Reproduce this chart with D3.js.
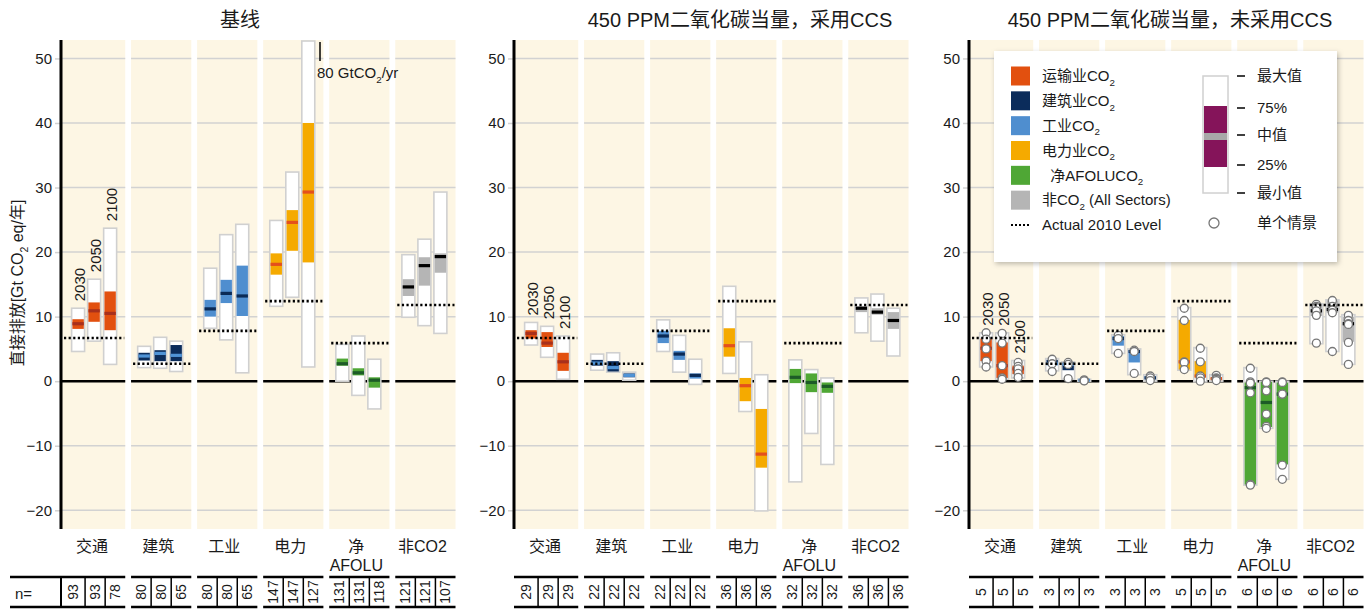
<!DOCTYPE html>
<html>
<head>
<meta charset="utf-8">
<script src="https://cdn.jsdelivr.net/npm/d3@7"></script>
<style>
  body { margin: 0; background: #fff; }
  text { font-family: "Liberation Sans", Arial, "Noto Sans CJK SC", sans-serif; fill: #1a1a1a; }
</style>
</head>
<body>
<svg id="chart" width="1371" height="609"></svg>
<script>
// categories, years, ticks
const categories = ['交通', '建筑', '工业', '电力', '净|AFOLU', '非CO2']
const years = ['2030', '2050', '2100']
const yTicks = [50, 40, 30, 20, 10, 0, -10, -20]
const panelTitles = ['基线', '450 PPM二氧化碳当量，采用CCS', '450 PPM二氧化碳当量，未采用CCS']

// actual 2010 level per category
const level2010 = [6.7, 2.7, 7.8, 12.4, 5.9, 11.8]

// [min, 25%, median, 75%, max] per category, per year
const baseline = [
  [[4.6, 8.1, 8.9, 9.6, 11.3], [6.2, 9.2, 10.9, 12.2, 15.8], [2.6, 7.9, 10.5, 13.9, 23.7]],
  [[2.1, 3.2, 3.9, 4.4, 5.4], [2.0, 3.1, 4.3, 4.8, 6.8], [1.5, 3.1, 4.0, 5.6, 6.2]],
  [[8.2, 10.0, 11.2, 12.6, 17.5], [6.4, 12.1, 13.6, 15.7, 22.7], [1.3, 10.1, 13.2, 17.9, 24.3]],
  [[11.6, 16.5, 18.1, 19.8, 24.9], [13.0, 20.2, 24.6, 26.5, 32.4], [2.2, 18.4, 29.3, 40.0, 80]],
  [[0.0, 2.4, 2.7, 3.5, 5.7], [-2.2, 0.9, 1.3, 2.0, 7.0], [-4.3, -1.0, 0.15, 0.6, 3.4]],
  [[9.9, 13.2, 14.6, 15.8, 19.6], [8.6, 14.8, 17.9, 19.2, 22.0], [7.4, 16.8, 19.3, 19.8, 29.3]]
]
const withCcs = [
  [[5.6, 6.6, 7.4, 7.9, 9.1], [3.7, 5.3, 5.9, 7.6, 8.5], [0.3, 1.6, 3.0, 4.4, 7.0]],
  [[1.7, 2.4, 2.8, 3.3, 4.2], [1.4, 1.5, 2.1, 3.1, 4.4], [0.15, 0.6, 0.9, 1.2, 1.4]],
  [[4.6, 5.9, 7.0, 7.8, 9.5], [1.4, 3.3, 4.2, 4.7, 7.1], [-0.5, 0.4, 0.9, 1.2, 3.4]],
  [[1.2, 3.8, 5.5, 8.2, 14.7], [-4.7, -3.1, -0.7, 0.5, 6.1], [-20.1, -13.4, -11.3, -4.3, 1.0]],
  [[-15.6, -0.3, 0.6, 1.9, 3.3], [-8.1, -1.7, -0.2, 1.2, 1.8], [-12.9, -1.8, -0.8, -0.2, 0.5]],
  [[7.5, 10.7, 11.3, 11.6, 12.9], [6.2, 10.3, 10.7, 11.3, 13.5], [3.9, 8.1, 9.4, 10.7, 11.3]]
]
const noCcs = [
  [[2.2, 3.1, 5.1, 6.6, 7.5], [0.3, 0.5, 2.4, 6.0, 7.5], [0.5, 1.1, 1.9, 2.4, 3.2]],
  [[1.6, 2.5, 2.7, 3.3, 3.5], [0.3, 1.7, 2.6, 2.9, 3.0], [0.0, 0.1, 0.15, 0.25, 0.3]],
  [[4.3, 5.5, 6.6, 7.0, 7.2], [1.0, 2.9, 4.6, 4.8, 5.0], [0.0, 0.3, 0.5, 0.8, 1.0]],
  [[1.7, 1.8, 3.0, 9.5, 11.4], [-0.1, 0.6, 0.8, 3.1, 5.2], [0.0, 0.3, 0.4, 0.5, 1.0]],
  [[-16.1, -16.0, -1.0, -0.2, 2.1], [-7.3, -7.1, -3.3, -0.1, 0.0], [-15.2, -12.9, -2.0, -0.2, 0.0]],
  [[5.8, 10.1, 10.9, 12.0, 12.0], [4.6, 10.6, 11.1, 12.5, 12.6], [2.6, 6.1, 8.9, 10.0, 10.3]]
]
// individual scenarios (no CCS panel)
const noCcsPoints = [
  [[7.5, 6.5, 5.0, 3.1, 2.2], [7.4, 5.9, 2.4, 0.5, 0.3], [2.9, 2.3, 1.9, 1.2, 0.6]],
  [[3.4, 2.7, 1.5], [2.9, 2.6, 0.4], [0.2, 0.1, 0.05]],
  [[7.1, 6.6, 4.3], [4.8, 4.6, 1.2], [0.8, 0.5, 0.1]],
  [[11.3, 9.4, 3.0, 2.9, 1.8], [5.1, 3.0, 0.8, 0.5, 0.0], [0.9, 0.5, 0.4, 0.3, 0.1]],
  [[2.0, -0.1, -0.3, -1.8, -16.0, -16.1], [-0.1, -0.2, -1.5, -5.1, -7.0, -7.3], [-0.1, -0.2, -2.0, -2.0, -13.0, -15.2]],
  [[11.9, 11.6, 11.4, 10.9, 10.2, 5.9], [12.5, 11.6, 11.1, 11.0, 10.6, 4.6], [10.2, 9.4, 8.9, 8.8, 6.0, 2.6]]
]
// scenario counts
const nBaseline = [[93, 93, 78], [80, 80, 65], [80, 80, 65], [147, 147, 127], [131, 131, 118], [121, 121, 107]]
const nCcs = [[29, 29, 29], [22, 22, 22], [22, 22, 22], [36, 36, 36], [32, 32, 32], [36, 36, 36]]
const nNoCcs = [[5, 5, 5], [3, 3, 3], [3, 3, 3], [5, 5, 5], [6, 6, 6], [6, 6, 6]]

const boxColors = ['#e2500f', '#0b2c5b', '#4f8ecf', '#f5aa00', '#4fa735', '#b5b5b5']
const medColors = ['#a8301c', '#4f93d6', '#0b2a55', '#e4501c', '#1d5b27', '#000000']
const legendLabels = [['运输业CO', '2', ''], ['建筑业CO', '2', ''], ['工业CO', '2', ''],
  ['电力业CO', '2', ''], ['  净AFOLUCO', '2', ''], ['非CO', '2', ' (All Sectors)']]

const panels = [
  {title: panelTitles[0], stats: baseline, n: nBaseline, x0: 61, tx: 240},
  {title: panelTitles[1], stats: withCcs, n: nCcs, x0: 514, tx: 740},
  {title: panelTitles[2], stats: noCcs, n: nNoCcs, points: noCcsPoints, x0: 969, tx: 1170}
]

const svg = d3.select('#chart')
const plotTop = 40, plotBottom = 529
const y = d3.scaleLinear().domain([-22.9, 52.7]).range([plotBottom, plotTop + 1]).clamp(true)

// helper for text with subscript
function subText(sel, parts, size) {
  sel.append('tspan').text(parts[0])
  sel.append('tspan').text(parts[1]).attr('font-size', size * 0.65).attr('dy', size * 0.3)
  sel.append('tspan').text(parts[2]).attr('dy', -size * 0.3)
}

panels.forEach((p, pi) => {
  const x0 = p.x0
  const g = svg.append('g')
  const x = d3.scaleBand().domain(d3.range(categories.length))
    .range([x0 + 4, x0 + 394.5]).paddingInner(0.088)
  const bw = x.bandwidth()
  const slotStart = i => i === 0 ? x0 + 1 : x(i)
  const slotEnd = i => x(i) + bw

  // title
  g.append('text').attr('x', p.tx).attr('y', 27).attr('text-anchor', 'middle')
    .attr('font-size', 20).attr('font-family', '"Noto Sans CJK SC", "Liberation Sans", sans-serif')
    .text(p.title)

  // slot backgrounds
  g.selectAll('.bg').data(categories).enter().append('rect')
    .attr('x', (d, i) => slotStart(i)).attr('y', plotTop)
    .attr('width', (d, i) => slotEnd(i) - slotStart(i)).attr('height', plotBottom - plotTop)
    .attr('fill', '#fdf6e4')

  // gridlines
  categories.forEach((c, i) => {
    g.selectAll(null).data(yTicks.filter(t => t !== 0)).enter().append('line')
      .attr('x1', slotStart(i)).attr('x2', slotEnd(i))
      .attr('y1', d => y(d)).attr('y2', d => y(d))
      .attr('stroke', '#d2d2d2').attr('stroke-width', 1.5)
  })

  // y axis ticks + labels
  const yAxis = d3.axisLeft(y).tickValues(yTicks).tickSize(6).tickPadding(3)
  const ag = g.append('g').attr('transform', `translate(${x0},0)`).call(yAxis)
  ag.select('.domain').remove()
  ag.selectAll('.tick line').attr('stroke', '#d2d2d2').attr('stroke-width', 1.5)
  ag.selectAll('.tick text').attr('font-size', 15).attr('fill', '#1a1a1a')
    .attr('font-family', '"Liberation Sans", Arial, sans-serif')

  // zero line
  categories.forEach((c, i) => {
    g.append('line').attr('x1', slotStart(i)).attr('x2', slotEnd(i))
      .attr('y1', y(0)).attr('y2', y(0)).attr('stroke', '#000').attr('stroke-width', 2.5)
  })

  // boxes
  categories.forEach((c, i) => {
    const cx = x(i) + bw / 2 - 1
    const xy = d3.scaleBand().domain(years).range([cx - 22.5, cx + 22.5]).paddingInner(0.19)
    const w = xy.bandwidth()
    years.forEach((yr, k) => {
      const s = p.stats[i][k]
      const bx = xy(yr)
      g.append('rect').attr('x', bx).attr('y', y(s[4]))
        .attr('width', w).attr('height', y(s[0]) - y(s[4]))
        .attr('fill', '#fff').attr('stroke', '#d0d0d0').attr('stroke-width', 1.6)
      g.append('rect').attr('x', bx + 0.8).attr('y', y(s[3]))
        .attr('width', w - 1.6).attr('height', Math.max(1, y(s[1]) - y(s[3])))
        .attr('fill', boxColors[i])
      g.append('rect').attr('x', bx + 0.8).attr('y', y(s[2]) - 1.6)
        .attr('width', w - 1.6).attr('height', 3.2)
        .attr('fill', medColors[i])
      if (p.points) {
        g.selectAll(null).data(p.points[i][k]).enter().append('circle')
          .attr('cx', bx + w / 2).attr('cy', d => y(d)).attr('r', 4)
          .attr('fill', '#fff').attr('stroke', '#777').attr('stroke-width', 1.3)
      }
      if (i === 0) {
        g.append('text').attr('transform', `translate(${bx + w / 2 + 1},${y(s[4]) - 7}) rotate(-90)`)
          .attr('dominant-baseline', 'central').attr('font-size', 15)
          .text(yr)
      }
    })
  })

  // 2010 level dotted lines
  g.selectAll('.lvl').data(level2010).enter().append('line')
    .attr('x1', (d, i) => slotStart(i) + 2).attr('x2', (d, i) => slotEnd(i) - 1)
    .attr('y1', d => y(d)).attr('y2', d => y(d))
    .attr('stroke', '#000').attr('stroke-width', 2.6).attr('stroke-dasharray', '2.2,2.4')

  // axis line
  g.append('line').attr('x1', x0).attr('x2', x0).attr('y1', plotTop).attr('y2', plotBottom)
    .attr('stroke', '#000').attr('stroke-width', 3)

  // category labels
  categories.forEach((c, i) => {
    const parts = c.split('|')
    parts.forEach((t, j) => {
      g.append('text').attr('x', x(i) + bw / 2 - 3).attr('y', 552 + j * 19)
        .attr('text-anchor', 'middle').attr('font-size', 16)
        .attr('font-family', '"Noto Sans CJK SC", "Liberation Sans", sans-serif')
        .text(t)
    })
  })

  // n= table
  const t1 = 577, t2 = 607
  categories.forEach((c, i) => {
    const a = (pi === 0 && i === 0) ? 10 : (i === 0 ? x0 : x(i))
    const b = slotEnd(i)
    g.append('line').attr('x1', a).attr('x2', b).attr('y1', t1).attr('y2', t1)
      .attr('stroke', '#000').attr('stroke-width', 2.5)
    g.append('line').attr('x1', a).attr('x2', b).attr('y1', t2).attr('y2', t2)
      .attr('stroke', '#000').attr('stroke-width', 2.5)
    const edges = [i === 0 ? x0 : x(i), x(i) + bw / 3, x(i) + 2 * bw / 3, b]
    edges.slice(1, 3).forEach(e => {
      g.append('line').attr('x1', e).attr('x2', e).attr('y1', t1).attr('y2', t2)
        .attr('stroke', '#000').attr('stroke-width', 1.5)
    })
    p.n[i].forEach((v, k) => {
      const mx = (edges[k] + edges[k + 1]) / 2
      g.append('text').attr('transform', `translate(${mx},${(t1 + t2) / 2}) rotate(-90)`)
        .attr('text-anchor', 'middle').attr('dominant-baseline', 'central')
        .attr('font-size', 14).text(v)
    })
  })
  if (pi === 0) {
    g.append('line').attr('x1', x0).attr('x2', x0).attr('y1', t1).attr('y2', t2)
      .attr('stroke', '#000').attr('stroke-width', 2)
    g.append('text').attr('x', 15).attr('y', 593).attr('dominant-baseline', 'central')
      .attr('font-size', 15).text('n=')
  }
})

// off-scale note on baseline power 2100
svg.append('line').attr('x1', 320).attr('x2', 320).attr('y1', 42).attr('y2', 61)
  .attr('stroke', '#000').attr('stroke-width', 1.5)
subText(svg.append('text').attr('x', 317).attr('y', 78).attr('font-size', 15), ['80 GtCO', '2', '/yr'], 15)

// y axis label
subText(svg.append('text').attr('transform', 'translate(23,283) rotate(-90)')
  .attr('text-anchor', 'middle').attr('font-size', 16)
  .attr('font-family', '"Liberation Sans", "Noto Sans CJK SC", sans-serif'),
  ['直接排放[Gt CO', '2', ' eq/年]'], 16)

// legend
const defs = svg.append('defs')
const f = defs.append('filter').attr('id', 'shadow').attr('x', '-10%').attr('y', '-10%')
  .attr('width', '130%').attr('height', '130%')
f.append('feDropShadow').attr('dx', 1.5).attr('dy', 2).attr('stdDeviation', 2.5)
  .attr('flood-color', '#000').attr('flood-opacity', 0.25)

const lg = svg.append('g').attr('transform', 'translate(994,51)')
lg.append('rect').attr('width', 343).attr('height', 211).attr('fill', '#fff').attr('filter', 'url(#shadow)')
const rowY = d3.scalePoint().domain(d3.range(7)).range([25, 174])
legendLabels.forEach((l, i) => {
  lg.append('rect').attr('x', 17).attr('y', rowY(i) - 9.5).attr('width', 19).attr('height', 19)
    .attr('fill', boxColors[i])
  subText(lg.append('text').attr('x', 48).attr('y', rowY(i)).attr('dy', '0.35em')
    .attr('font-size', 15).attr('xml:space', 'preserve'), l, 15)
})
lg.append('line').attr('x1', 17).attr('x2', 36).attr('y1', rowY(6)).attr('y2', rowY(6))
  .attr('stroke', '#000').attr('stroke-width', 2).attr('stroke-dasharray', '2,2')
lg.append('text').attr('x', 48).attr('y', rowY(6)).attr('dy', '0.35em').attr('font-size', 15)
  .text('Actual 2010 Level')

// box key
const keyLabels = ['最大值', '75%', '中值', '25%', '最小值']
const keyY = [25, 57, 84, 114, 142]
lg.append('rect').attr('x', 209).attr('y', 25).attr('width', 25).attr('height', 117)
  .attr('fill', '#fff').attr('stroke', '#d0d0d0').attr('stroke-width', 1.5)
lg.append('rect').attr('x', 210).attr('y', 55).attr('width', 23).attr('height', 61).attr('fill', '#85145a')
lg.append('rect').attr('x', 210).attr('y', 82).attr('width', 23).attr('height', 7).attr('fill', '#a8a8a8')
keyLabels.forEach((k, i) => {
  lg.append('line').attr('x1', 243).attr('x2', 251).attr('y1', keyY[i]).attr('y2', keyY[i])
    .attr('stroke', '#000').attr('stroke-width', 1.5)
  lg.append('text').attr('x', 263).attr('y', keyY[i]).attr('dy', '0.35em').attr('font-size', 15)
    .attr('font-family', '"Noto Sans CJK SC", "Liberation Sans", sans-serif').text(k)
})
lg.append('circle').attr('cx', 220).attr('cy', 172).attr('r', 5)
  .attr('fill', '#fff').attr('stroke', '#777').attr('stroke-width', 1.3)
lg.append('text').attr('x', 263).attr('y', 172).attr('dy', '0.35em').attr('font-size', 15)
  .attr('font-family', '"Noto Sans CJK SC", "Liberation Sans", sans-serif').text('单个情景')
</script>
</body>
</html>
